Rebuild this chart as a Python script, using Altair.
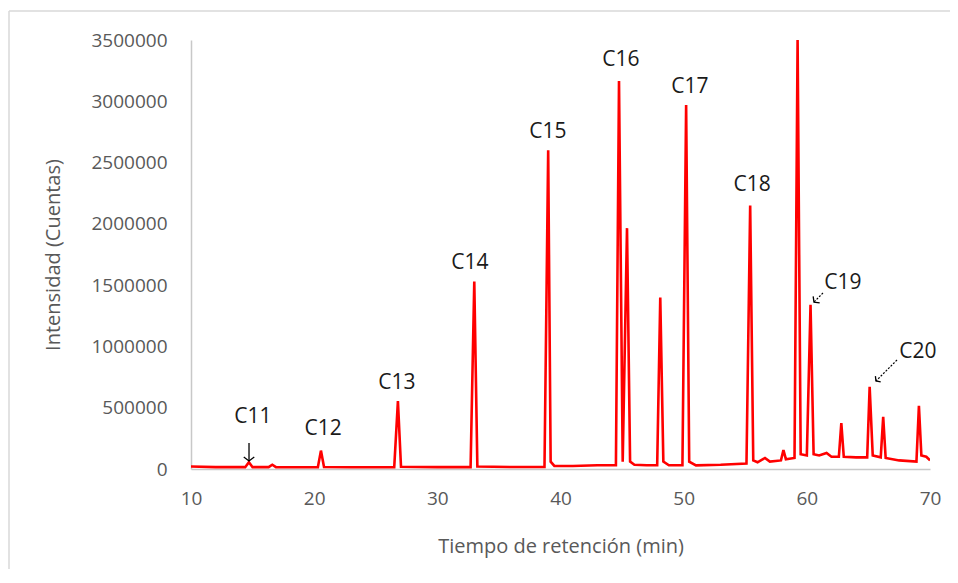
import altair as alt
import pandas as pd

# Chromatogram trace (retention time in min, intensity in counts)
tiempo = [10.0, 12.0, 14.4, 14.7, 15.0, 16.3, 16.6, 16.9, 18.0, 20.3, 20.55, 20.8,
          23.0, 26.5, 26.8, 27.05, 30.0, 32.7, 33.0, 33.25, 36.0, 38.7, 39.0, 39.2,
          39.5, 41.0, 43.0, 44.5, 44.75, 45.05, 45.4, 45.65, 46.0, 47.0, 47.85, 48.1,
          48.35, 48.8, 49.9, 50.2, 50.45, 51.0, 53.0, 55.1, 55.4, 55.65, 56.0, 56.6,
          57.0, 57.9, 58.1, 58.3, 59.0, 59.25, 59.5, 60.0, 60.3, 60.55, 61.0, 61.6,
          62.0, 62.6, 62.8, 63.0, 64.0, 64.9, 65.1, 65.35, 66.0, 66.2, 66.4, 67.5,
          68.9, 69.1, 69.3, 69.7, 70.0]
intensidad = [20000, 15000, 15000, 55000, 15000, 15000, 35000, 15000, 14000, 14000, 150000, 16000,
              14000, 14000, 555000, 18000, 15000, 15000, 1530000, 20000, 16000, 16000, 2600000, 60000,
              25000, 25000, 30000, 30000, 3165000, 60000, 1965000, 60000, 35000, 30000, 30000, 1400000,
              60000, 30000, 30000, 2970000, 60000, 30000, 35000, 45000, 2150000, 70000, 55000, 90000,
              60000, 70000, 155000, 80000, 90000, 3500000, 120000, 110000, 1340000, 120000, 110000, 130000,
              100000, 100000, 375000, 100000, 95000, 95000, 670000, 110000, 95000, 425000, 90000, 70000,
              60000, 515000, 110000, 100000, 70000]

# Peak labels
etiquetas = ["C11", "C12", "C13", "C14", "C15", "C16", "C17", "C18", "C19", "C20"]
etq_x = [15.03, 20.72, 26.72, 32.65, 38.98, 44.91, 50.51, 55.55, 62.93, 69.02]
etq_y = [424000, 326000, 702000, 1681000, 2749000, 3337000, 3117000, 2317000, 1517000, 954000]

# Annotation arrows (start -> tip)
flecha_nombre = ["C11", "C19", "C20"]
flecha_x1 = [14.71, 61.31, 67.32]
flecha_y1 = [212000, 1436000, 889000]
flecha_x2 = [14.71, 60.58, 65.61]
flecha_y2 = [65000, 1362000, 718000]
flecha_ang = [0, 45, 47]
flecha_dash = ["solid", "dash", "dash"]

x_ticks = [10, 20, 30, 40, 50, 60, 70]
y_ticks = [0, 500000, 1000000, 1500000, 2000000, 2500000, 3000000, 3500000]

FONT = "Open Sans"
GRAY = "#595959"

df = pd.DataFrame({"t": tiempo, "i": intensidad})
df_lab = pd.DataFrame({"lab": etiquetas, "x": etq_x, "y": etq_y})
df_arr = pd.DataFrame({"n": flecha_nombre, "x1": flecha_x1, "y1": flecha_y1,
                       "x2": flecha_x2, "y2": flecha_y2, "ang": flecha_ang,
                       "dash": flecha_dash})

xsc = alt.Scale(domain=[10, 70], nice=False, zero=False, padding=0)
ysc = alt.Scale(domain=[0, 3500000], nice=False, padding=0)

line = alt.Chart(df).mark_line(color="#FF0000", strokeWidth=2.6, clip=True).encode(
    x=alt.X("t:Q", scale=xsc,
            axis=alt.Axis(values=x_ticks, title="Tiempo de retención (min)", format="d",
                          labelPadding=20, titlePadding=28)),
    y=alt.Y("i:Q", scale=ysc,
            axis=alt.Axis(values=y_ticks, title="Intensidad (Cuentas)", format="d",
                          labelPadding=24, titlePadding=27)),
)

labels = alt.Chart(df_lab).mark_text(font=FONT, fontSize=21, color="#1a1a1a",
                                      align="center", baseline="middle").encode(
    x=alt.X("x:Q", scale=xsc), y=alt.Y("y:Q", scale=ysc), text="lab:N")

shafts_solid = alt.Chart(df_arr[df_arr.dash == "solid"]).mark_rule(
    color="black", strokeWidth=1.3).encode(
    x=alt.X("x1:Q", scale=xsc), y=alt.Y("y1:Q", scale=ysc), x2="x2:Q", y2="y2:Q")

shafts_dash = alt.Chart(df_arr[df_arr.dash == "dash"]).mark_rule(
    color="black", strokeWidth=1.2, strokeDash=[2, 1.5]).encode(
    x=alt.X("x1:Q", scale=xsc), y=alt.Y("y1:Q", scale=ysc), x2="x2:Q", y2="y2:Q")

heads = alt.Chart(df_arr).mark_point(
    shape="M-1,-0.75L0,0L1,-0.75", filled=False, color="black", strokeWidth=1.3,
    opacity=1).encode(
    x=alt.X("x2:Q", scale=xsc), y=alt.Y("y2:Q", scale=ysc),
    angle=alt.Angle("ang:Q", scale=None),
    size=alt.Size("n:N", scale=alt.Scale(domain=["C11", "C19", "C20"], range=[110, 60, 60]),
                  legend=None))

# light chart-area frame (top and left edges)
frame_top = alt.Chart(df_lab.head(1)).mark_rule(color="#D9D9D9", strokeWidth=1.5).encode(
    x=alt.value(-182), x2=alt.value(760), y=alt.value(-29))
frame_left = alt.Chart(df_lab.head(1)).mark_rule(color="#D9D9D9", strokeWidth=1.5).encode(
    x=alt.value(-182), y=alt.value(-29), y2=alt.value(540))

chart = alt.layer(frame_top, frame_left, line, shafts_solid, shafts_dash, heads, labels).properties(
    width=739, height=429,
    autosize=alt.AutoSizeParams(type="none"),
    padding={"left": 183, "top": 32, "right": 20, "bottom": 100},
).configure_view(stroke=None).configure_axis(
    grid=False, ticks=False, domainColor="#C8C8C8", domainWidth=1.5,
    labelFlush=False,
    labelFont=FONT, labelFontSize=19, labelColor=GRAY,
    titleFont=FONT, titleFontSize=20, titleColor=GRAY, titleFontWeight="normal",
)

chart.save("out.html", embed_options={"renderer": "svg", "actions": False})
